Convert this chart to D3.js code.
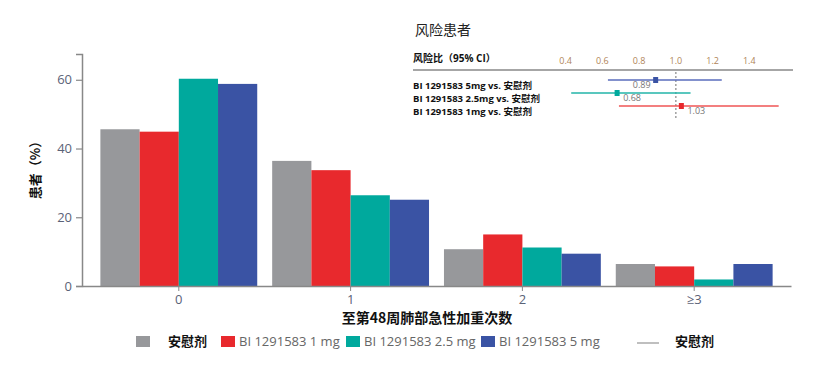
<!DOCTYPE html>
<html>
<head>
<meta charset="utf-8">
<script src="https://cdn.jsdelivr.net/npm/d3@7"></script>
<style>
  html, body { margin: 0; padding: 0; background: #fff; }
  svg { display: block; }
  text { font-family: "Liberation Sans Narrow", "Open Sans", "Noto Sans CJK SC", sans-serif; }
  .cjk { font-family: "Noto Sans CJK SC", sans-serif; }
</style>
</head>
<body>
<svg id="chart" width="831" height="366"></svg>
<script>
// ---- data ----
const categories = ["0", "1", "2", "≥3"];
const seriesNames = ["安慰剂", "BI 1291583 1 mg", "BI 1291583 2.5 mg", "BI 1291583 5 mg"];
const placebo = [45.6, 36.4, 10.7, 6.4];
const bi1mg   = [44.9, 33.7, 15.0, 5.7];
const bi25mg  = [60.3, 26.4, 11.2, 1.9];
const bi5mg   = [58.8, 25.1, 9.4, 6.4];
const yTicks = [0, 20, 40, 60];

const hrLabels = ["BI 1291583 5mg vs. 安慰剂", "BI 1291583 2.5mg vs. 安慰剂", "BI 1291583 1mg vs. 安慰剂"];
const hrEst  = [0.89, 0.68, 1.03];
const hrLow  = [0.63, 0.43, 0.69];
const hrHigh = [1.25, 1.08, 1.56];
const hrTicks = [0.4, 0.6, 0.8, 1.0, 1.2, 1.4];

const colors = ["#97989b", "#e8292d", "#00a99d", "#3a53a4"];
const hrColors = ["#5a6cbc", "#22b5a8", "#ef5555"];

const svg = d3.select("#chart");
const series = [placebo, bi1mg, bi25mg, bi5mg];

// ---- scales ----
const x0 = d3.scaleBand().domain(categories).range([82, 791]).paddingInner(0.087).paddingOuter(0.107);
const x1 = d3.scaleBand().domain(d3.range(series.length)).range([0, x0.bandwidth()]);
const y = d3.scaleLinear().domain([0, 67.5]).range([286, 54]);

// ---- bars ----
const g = svg.append("g");
categories.forEach((c, ci) => {
  series.forEach((s, si) => {
    g.append("rect")
      .attr("x", x0(c) + x1(si))
      .attr("y", y(s[ci]))
      .attr("width", x1.bandwidth())
      .attr("height", y(0) - y(s[ci]))
      .attr("fill", colors[si]);
  });
});

// ---- axes ----
const yAxis = svg.append("g").attr("transform", "translate(82,0)")
  .call(d3.axisLeft(y).tickValues(yTicks).tickSize(6).tickPadding(4));
yAxis.select(".domain").attr("stroke", "#888").attr("stroke-width", 1.5);
yAxis.selectAll(".tick line").attr("stroke", "#888").attr("stroke-width", 1.2);
yAxis.selectAll(".tick text").attr("fill", "#5b6277").style("font-size", "13px");

const xAxis = svg.append("g").attr("transform", "translate(0,286)")
  .call(d3.axisBottom(x0).tickSize(5).tickSizeOuter(0).tickPadding(4));
xAxis.select(".domain").attr("stroke", "#888").attr("stroke-width", 1.5);
xAxis.selectAll(".tick line").attr("stroke", "#888");
xAxis.selectAll(".tick text").attr("fill", "#5b6277").style("font-size", "13px");

// axis titles
svg.append("text").attr("class", "cjk")
  .attr("x", 427).attr("y", 323).attr("text-anchor", "middle")
  .style("font-size", "14px").style("font-weight", "bold").attr("fill", "#111")
  .text("至第48周肺部急性加重次数");
svg.append("text").attr("class", "cjk")
  .attr("transform", "translate(40,167) rotate(-90)").attr("text-anchor", "middle")
  .style("font-size", "13px").style("font-weight", "bold").attr("fill", "#111")
  .text("患者（%）");

// ---- legend ----
const legendX = [136, 221, 346, 481];
const legendTextX = [168, 239, 364, 499];
seriesNames.forEach((n, i) => {
  svg.append("rect").attr("x", legendX[i]).attr("y", 336).attr("width", 14).attr("height", 11).attr("fill", colors[i]);
  const t = svg.append("text").attr("x", legendTextX[i]).attr("y", 346)
    .style("font-size", "13px").text(n);
  if (i === 0) t.attr("class", "cjk").style("font-weight", "bold").attr("fill", "#111");
  else t.attr("fill", "#666");
});
svg.append("line").attr("x1", 637).attr("x2", 659).attr("y1", 343).attr("y2", 343)
  .attr("stroke", "#aaa").attr("stroke-width", 1.5);
svg.append("text").attr("class", "cjk").attr("x", 675).attr("y", 346)
  .style("font-size", "13px").style("font-weight", "bold").attr("fill", "#111").text("安慰剂");

// ---- forest plot inset ----
svg.append("text").attr("class", "cjk").attr("x", 415).attr("y", 35)
  .style("font-size", "14px").attr("fill", "#222").text("风险患者");
svg.append("text").attr("x", 413).attr("y", 62)
  .style("font-size", "10px").style("font-weight", "bold").attr("fill", "#111")
  .text("风险比（95% CI）");

const hx = d3.scaleLinear().domain([0.4, 1.4]).range([565.7, 749.3]);
const hy = d3.scalePoint().domain(d3.range(hrLabels.length)).range([80, 106]);
const hyLab = d3.scalePoint().domain(d3.range(hrLabels.length)).range([89, 115]);

svg.append("line").attr("x1", 413).attr("x2", 793).attr("y1", 70).attr("y2", 70)
  .attr("stroke", "#888").attr("stroke-width", 1.5);
hrTicks.forEach(t => {
  svg.append("text").attr("x", hx(t)).attr("y", 64).attr("text-anchor", "middle")
    .style("font-size", "9px").attr("fill", "#b08558").text(d3.format(".1f")(t));
});
svg.append("line").attr("x1", hx(1.0)).attr("x2", hx(1.0)).attr("y1", 72).attr("y2", 118)
  .attr("stroke", "#888").attr("stroke-width", 1.2).attr("stroke-dasharray", "2,2");

hrLabels.forEach((lab, i) => {
  const yy = hy(i);
  svg.append("text").attr("x", 413).attr("y", hyLab(i))
    .style("font-size", "9.5px").style("font-weight", "bold").attr("fill", "#111").text(lab);
  svg.append("line").attr("x1", hx(hrLow[i])).attr("x2", hx(hrHigh[i])).attr("y1", yy).attr("y2", yy)
    .attr("stroke", hrColors[i]).attr("stroke-width", 1.5);
  svg.append("rect").attr("x", hx(hrEst[i]) - 2.5).attr("y", yy - 3).attr("width", 5).attr("height", 6)
    .attr("fill", colors[[3, 2, 1][i]]);
  const dx = i === 0 ? -14 : 15;
  svg.append("text").attr("x", hx(hrEst[i]) + dx).attr("y", yy + 8).attr("text-anchor", "middle")
    .style("font-size", "9px").attr("fill", "#777").text(d3.format(".2f")(hrEst[i]));
});
</script>
</body>
</html>
